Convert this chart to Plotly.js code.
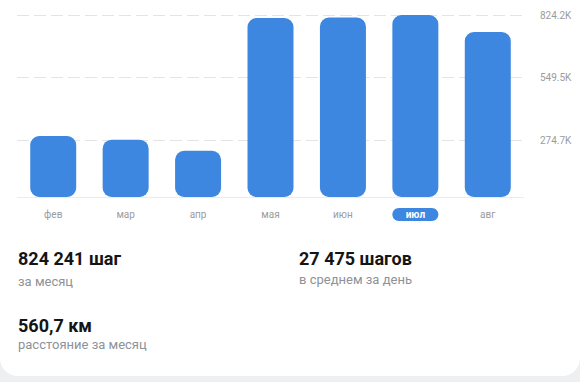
<!DOCTYPE html>
<html>
<head>
<meta charset="utf-8">
<script src="https://cdn.plot.ly/plotly-3.0.1.min.js"></script>
<style>
  html, body { margin: 0; padding: 0; background: #eeeff1; width: 580px; height: 382px; overflow: hidden; }
  #card { position: absolute; left: 0; top: 0; width: 580px; height: 376px; background: #ffffff; border-radius: 0 0 18px 18px; }
  #chart { position: absolute; left: 0; top: 0; width: 580px; height: 382px; }
</style>
</head>
<body>
<div id="card"></div>
<div id="chart"></div>
<script>
// ---- data ----
const months = ['фев', 'мар', 'апр', 'мая', 'июн', 'июл', 'авг'];
const steps = [292000, 276000, 227000, 811000, 813000, 824241, 749000];
const selectedMonth = 'июл';
const tickValues = [274747, 549494, 824241];
const tickLabels = ['274.7K', '549.5K', '824.2K'];
const summaryValues = ['824 241 шаг', '27 475 шагов', '560,7 км'];
const summaryCaptions = ['за месяц', 'в среднем за день', 'расстояние за месяц'];

// ---- layout constants ----
const BLUE = '#3d87e0';
const FONT = 'Roboto, "Noto Sans", sans-serif';
const yMin = 24169, yMax = 846221;

// bars start at the axis floor (base set -> rounded on both ends)
const barBase = steps.map(() => yMin);
const barLen = steps.map(v => v - yMin);

const traces = [{
  type: 'bar', x: months, y: barLen, base: barBase,
  marker: { color: BLUE, line: { width: 0 } },
  hoverinfo: 'skip', showlegend: false
}];

const tickText = months.map(m => m === selectedMonth
  ? '<span style="color:#ffffff;font-weight:bold">' + m + '</span>' : m);

const annotations = [];
const pos = [[16, 258.5, 281], [297, 258.5, 279], [16, 325, 344]];
const L = 17, R = 524, T = 10, B = 197;
const px2x = p => (p - L) / (R - L);
const py2y = p => (B - p) / (B - T);
summaryValues.forEach((t, i) => {
  annotations.push({ xref: 'paper', yref: 'paper', x: px2x(pos[i][0]), y: py2y(pos[i][1]),
    xanchor: 'left', yanchor: 'middle', showarrow: false, text: t,
    font: { family: FONT, size: 18, color: '#151515', weight: 'bold' } });
  annotations.push({ xref: 'paper', yref: 'paper', x: px2x(pos[i][0]), y: py2y(pos[i][2]),
    xanchor: 'left', yanchor: 'middle', showarrow: false, text: summaryCaptions[i],
    font: { family: FONT, size: 13, color: '#8d9297' } });
});

const pill = {
  type: 'path', layer: 'below', xref: 'x', yref: 'paper',
  xsizemode: 'pixel', ysizemode: 'pixel', xanchor: selectedMonth, yanchor: 0,
  path: 'M -16.5,-11 L 16.5,-11 C 20.1,-11 23,-13.9 23,-17.5 C 23,-21.1 20.1,-24 16.5,-24 ' +
        'L -16.5,-24 C -20.1,-24 -23,-21.1 -23,-17.5 C -23,-13.9 -20.1,-11 -16.5,-11 Z',
  fillcolor: BLUE, line: { width: 0 }
};

const layout = {
  width: 580, height: 382,
  margin: { l: L, r: 580 - R, t: T, b: 382 - B, pad: 0 },
  paper_bgcolor: 'rgba(0,0,0,0)', plot_bgcolor: 'rgba(0,0,0,0)',
  barmode: 'overlay', bargap: 0.365, barcornerradius: 9,
  font: { family: FONT },
  xaxis: {
    type: 'category', categoryorder: 'array', categoryarray: months,
    tickvals: months, ticktext: tickText,
    showgrid: false, zeroline: false, showline: true, linecolor: '#ececec', linewidth: 1,
    ticks: '', ticklabelstandoff: 8,
    tickfont: { family: FONT, size: 10, color: '#9b9b9b' }, fixedrange: true
  },
  yaxis: {
    range: [yMin, yMax], side: 'right', tickvals: tickValues, ticktext: tickLabels,
    showgrid: true, gridcolor: '#e4e4e4', gridwidth: 1, griddash: '12px,5px',
    zeroline: false, showline: false, ticks: '', ticklabelstandoff: 15,
    tickfont: { family: FONT, size: 10, color: '#9b9b9b' }, fixedrange: true
  },
  shapes: [pill],
  annotations: annotations
};

Plotly.newPlot('chart', traces, layout, { displayModeBar: false, staticPlot: true });
</script>
</body>
</html>
